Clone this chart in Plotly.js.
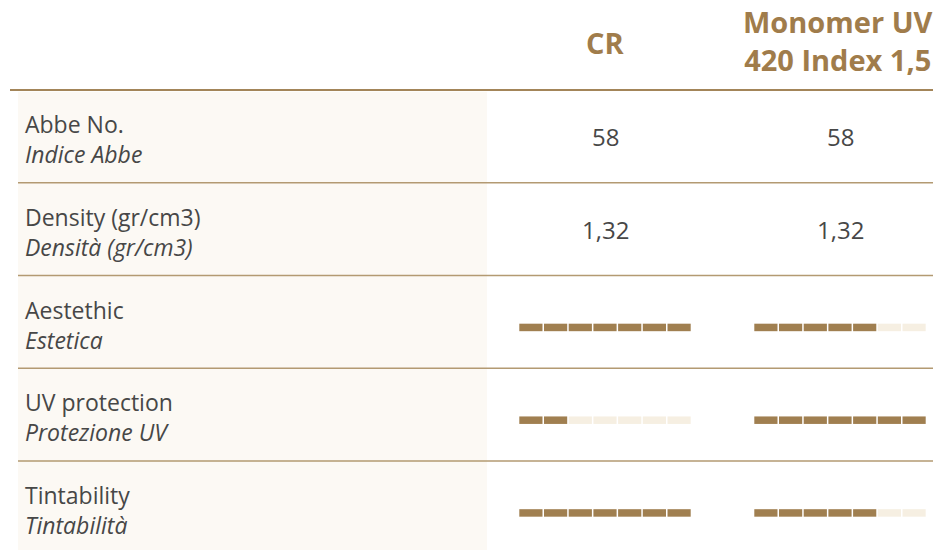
<!DOCTYPE html>
<html><head><meta charset="utf-8">
<script src="https://cdn.plot.ly/plotly-3.0.1.min.js"></script>
<style>html,body{margin:0;padding:0;background:#fff}#chart{width:933px;height:550px}</style>
</head><body><div id="chart"></div>
<script>
// ---- data ----
const columns = ["CR", "Monomer UV<br>420 Index 1,5"];
const rowLabels = ["Abbe No.", "Density (gr/cm3)", "Aestethic", "UV protection", "Tintability"];
const rowLabelsIt = ["Indice Abbe", "Densità (gr/cm3)", "Estetica", "Protezione UV", "Tintabilità"];
const textValuesCR = ["58", "1,32", null, null, null];
const textValuesMono = ["58", "1,32", null, null, null];
const ratingCR = [null, null, 7, 2, 7];
const ratingMono = [null, null, 5, 7, 5];
const maxRating = 7;

// ---- layout constants ----
const W = 933, H = 550;
const rowH = 92.75, headerH = 90;
const colCenters = [605, 840];
const segPitch = 24.7, segW = 23.2, barH = 7.5;
const gold = "#a07f50", light = "#f6efe2", lineC = "#b39a72", textC = "#474747";

const yTop = -headerH / rowH, yBot = (H - headerH) / rowH;
const pxY = barH / rowH;

const traces = [];
const ratings = [ratingCR, ratingMono];
ratings.forEach((r, c) => {
  const start = colCenters[c] - (segPitch * maxRating - (segPitch - segW)) / 2;
  const fy = [], fb = [], fx = [], ey = [], eb = [], ex = [];
  r.forEach((v, i) => {
    if (v == null) return;
    for (let k = 0; k < maxRating; k++) {
      const b = start + k * segPitch;
      if (k < v) { fy.push(i + 0.56); fb.push(b); fx.push(segW); }
      else { ey.push(i + 0.56); eb.push(b); ex.push(segW); }
    }
  });
  traces.push({type: "bar", orientation: "h", x: fx, base: fb, y: fy, width: pxY,
    marker: {color: gold, line: {width: 0}}, hoverinfo: "skip", showlegend: false});
  traces.push({type: "bar", orientation: "h", x: ex, base: eb, y: ey, width: pxY,
    marker: {color: light, line: {width: 0}}, hoverinfo: "skip", showlegend: false});
});

const shapes = [];
shapes.push({type: "rect", xref: "x", yref: "y", x0: 18, x1: 487, y0: 0.02, y1: yBot + 0.1,
  fillcolor: "#fcf9f4", line: {width: 0}, layer: "below"});
shapes.push({type: "line", xref: "x", yref: "y", x0: 10, x1: W, y0: 0, y1: 0,
  line: {color: "#a38559", width: 2}});
for (let i = 1; i < rowLabels.length; i++) {
  shapes.push({type: "line", xref: "x", yref: "y", x0: 18, x1: W, y0: i, y1: i,
    line: {color: lineC, width: 1.5}});
}

const annotations = [];
const hFont = {family: "Open Sans, sans-serif", size: 29, color: "#a07c4b", weight: 700};
annotations.push({x: colCenters[0], y: yTop + 42 / rowH, text: "<b>" + columns[0] + "</b>",
  showarrow: false, font: hFont, xanchor: "center", yanchor: "middle"});
annotations.push({x: colCenters[1] - 2, y: yTop + 40 / rowH, text: "<b>" + columns[1] + "</b>",
  showarrow: false, font: hFont, xanchor: "center", yanchor: "middle", align: "center"});

const bFont = {family: "Open Sans, sans-serif", size: 23, color: textC};
rowLabels.forEach((t, i) => {
  annotations.push({x: 23, y: i + 49 / rowH, text: t + "<br><i>" + rowLabelsIt[i] + "</i>",
    showarrow: false, font: bFont, xanchor: "left", yanchor: "middle", align: "left"});
});
[textValuesCR, textValuesMono].forEach((vals, c) => {
  vals.forEach((v, i) => {
    if (v == null) return;
    annotations.push({x: colCenters[c], y: i + 46.5 / rowH, text: v, showarrow: false,
      font: Object.assign({}, bFont, {size: 24}), xanchor: "center", yanchor: "middle"});
  });
});

const layout = {
  width: W, height: H, margin: {l: 0, r: 0, t: 0, b: 0},
  paper_bgcolor: "#fff", plot_bgcolor: "#fff", barmode: "overlay", showlegend: false,
  xaxis: {range: [0, W], visible: false, fixedrange: true},
  yaxis: {range: [yBot, yTop], visible: false, fixedrange: true},
  shapes, annotations
};
Plotly.newPlot("chart", traces, layout, {displayModeBar: false, staticPlot: true});
</script></body></html>
